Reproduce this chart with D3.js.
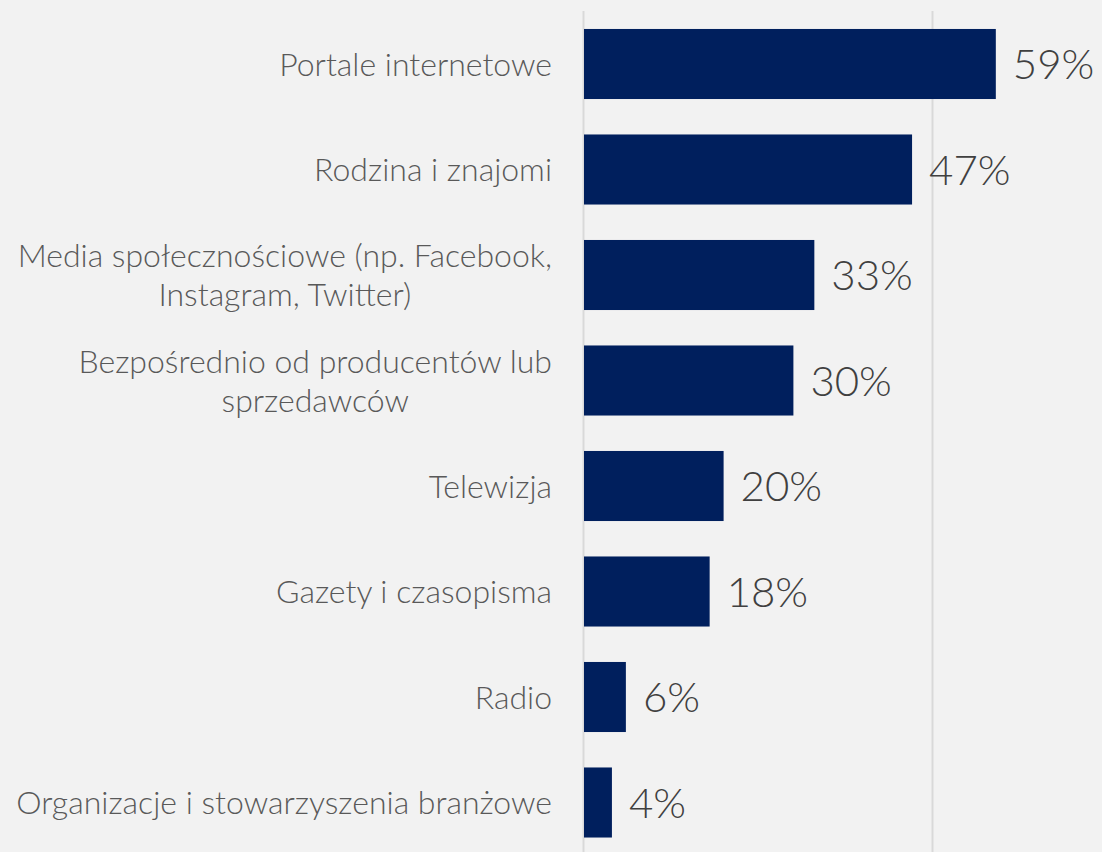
<!DOCTYPE html>
<html>
<head>
<meta charset="utf-8">
<script src="https://cdn.jsdelivr.net/npm/d3@7"></script>
<style>
  html, body { margin: 0; padding: 0; background: #f2f2f2; }
  svg { display: block; }
  text { font-family: "Lato Light", Lato, "Open Sans", sans-serif; font-weight: 300; }
</style>
</head>
<body>
<svg id="chart" width="1102" height="852"></svg>
<script>
// Source of information (multi-line labels are split into lines)
const categories = [
  ["Portale internetowe"],
  ["Rodzina i znajomi"],
  ["Media społecznościowe (np. Facebook,", "Instagram, Twitter)"],
  ["Bezpośrednio od producentów lub", "sprzedawców"],
  ["Telewizja"],
  ["Gazety i czasopisma"],
  ["Radio"],
  ["Organizacje i stowarzyszenia branżowe"]
];
const values = [59, 47, 33, 30, 20, 18, 6, 4];
const gridTicks = [0, 50];

const svg = d3.select("#chart");
const x0 = 584;
const x = d3.scaleLinear().domain([0, 50]).range([x0, x0 + 349]);
const y = d3.scaleBand()
  .domain(d3.range(categories.length))
  .range([11.25, 855.25])
  .paddingInner(0.336)
  .paddingOuter(0.168);

// vertical gridlines
svg.append("g").selectAll("line").data(gridTicks).join("line")
  .attr("x1", d => Math.round(x(d)) - 0.5)
  .attr("x2", d => Math.round(x(d)) - 0.5)
  .attr("y1", 11).attr("y2", 852)
  .attr("stroke", "#d9d9d9").attr("stroke-width", 2);

// bars
svg.append("g").selectAll("rect").data(values).join("rect")
  .attr("x", x(0))
  .attr("y", (d, i) => y(i))
  .attr("width", d => x(d) - x(0))
  .attr("height", y.bandwidth())
  .attr("fill", "#001f5d");

// value labels
svg.append("g").selectAll("text").data(values).join("text")
  .attr("x", d => x(d) + 17)
  .attr("y", (d, i) => y(i) + y.bandwidth() / 2)
  .attr("dy", "0.36em")
  .attr("font-size", 42)
  .attr("fill", "#404040")
  .text(d => d + "%");

// category labels: a centred text block, right-aligned to the axis
const labelRight = 552;
const fs = 32, lh = 39;
const g = svg.append("g");
categories.forEach((lines, i) => {
  const t = g.append("text")
    .attr("font-size", fs)
    .attr("fill", "#595959")
    .attr("text-anchor", "middle");
  const cy = y(i) + y.bandwidth() / 2;
  const startY = cy - (lines.length - 1) * lh / 2;
  const spans = lines.map((s, k) => t.append("tspan")
    .attr("y", startY + k * lh)
    .attr("dy", "0.36em")
    .text(s));
  const maxW = d3.max(spans, s => s.node().getComputedTextLength());
  spans.forEach(s => s.attr("x", labelRight - maxW / 2));
});
</script>
</body>
</html>
